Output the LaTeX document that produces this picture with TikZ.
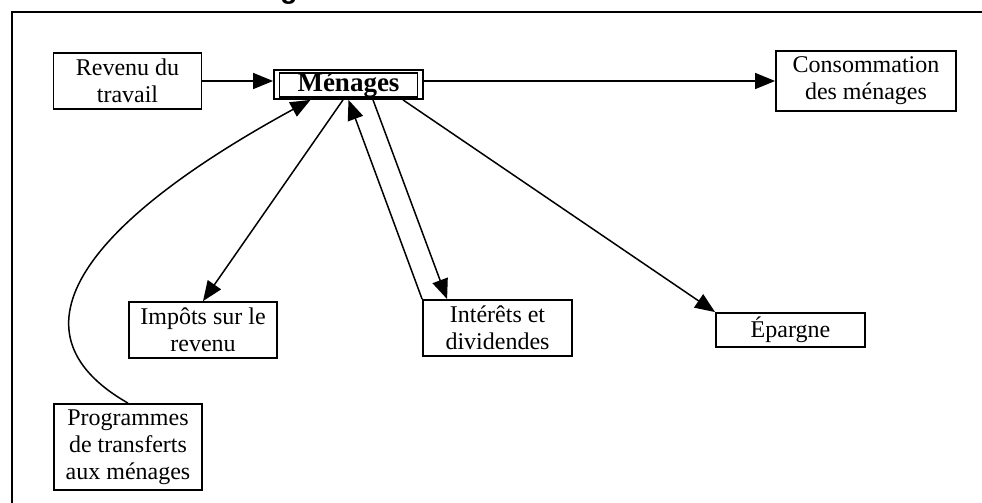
\documentclass[tikz,border=0pt]{standalone}
\usepackage{fontspec}
\setmainfont{Liberation Serif}
\newfontfamily\titlefont{Liberation Sans}
\usetikzlibrary{arrows.meta}
\begin{document}
\begin{tikzpicture}[x=0.5pt,y=-0.5pt,
  box/.style={draw,line width=0.9pt,align=center,inner sep=0pt,
    font=\fontsize{12}{13.6}\selectfont},
  flow/.style={line width=0.75pt,-{Triangle[length=10pt,width=8pt]}},
  link/.style={line width=0.75pt}]
\useasboundingbox (0,0) rectangle (982,503);
% cut title above the frame
\node[anchor=base,font=\titlefont\bfseries\fontsize{14}{16}\selectfont,inner sep=0pt] (title) at (289,-2) {g};
% outer frame
\draw[line width=1.1pt] (12,510) -- (12,12) -- (990,12);
% boxes
\node[box,minimum width=74pt,minimum height=28pt] (rev) at (127.5,81) {Revenu du\\travail};
\node[draw,line width=0.9pt,minimum width=74.5pt,minimum height=14.5pt,inner sep=0pt] (men) at (348.5,84.5) {};
\node[draw,line width=0.9pt,minimum width=69pt,minimum height=11pt,inner sep=0pt,
  font=\bfseries\fontsize{13.5}{15}\selectfont] (meninner) at (348.5,85) {Ménages};
\node[box,minimum width=90pt,minimum height=30pt] (cons) at (866,81) {Consommation\\des ménages};
\node[box,minimum width=74pt,minimum height=28pt] (imp) at (203,330) {Impôts sur le\\revenu};
\node[box,minimum width=74.5pt,minimum height=28pt] (int) at (497.5,328) {Intérêts et\\dividendes};
\node[box,minimum width=74.5pt,minimum height=17pt] (epa) at (790.5,330) {Épargne};
\node[box,minimum width=74pt,minimum height=43pt] (prog) at (128,447) {Programmes\\de transferts\\aux ménages};
% connectors
\draw[flow] (rev.east) -- (rev.east -| men.west);
\draw[flow] (cons.west -| men.east) -- (cons.west);
\draw[flow] ([xshift=-2.75pt]men.south) -- (imp.north);
\draw[flow] ([xshift=12.25pt]men.south) -- ([xshift=12.5pt]int.north west);
\draw[flow] (int.north west) -- (men.south);
\draw[flow] ([xshift=27.25pt]men.south) -- (epa.north west);
\draw[flow] (prog.north) .. controls (0,330) and (90,220) .. ([xshift=-19pt]men.south);
\end{tikzpicture}
\end{document}
